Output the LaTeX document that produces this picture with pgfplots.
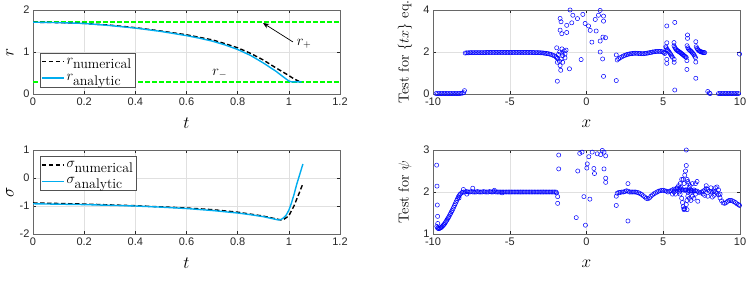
\documentclass[border=0pt]{standalone}
\usepackage{pgfplots}
\pgfplotsset{compat=1.18}
\usepackage{fontspec}
\newfontfamily\tickfont{Liberation Sans}
\usetikzlibrary{arrows.meta}
\definecolor{axgray}{rgb}{0.15,0.15,0.15}
\definecolor{grgray}{rgb}{0.88,0.88,0.88}
\newcommand\sub[1]{\mbox{\fontsize{14}{14}\selectfont #1}}
\pgfplotsset{
  myax/.style={
    scale only axis, width=307pt, height=84pt,
    axis line style={draw=axgray!70, line width=0.5pt},
    grid=major, major grid style={grgray, line width=0.4pt},
    tick align=inside, tick style={axgray, line width=0.5pt},
    major tick length=3pt,
    ticklabel style={font=\tickfont\fontsize{11}{12}\selectfont, text=axgray},
    /pgf/number format/assume math mode=true,
    every axis x label/.style={at={([yshift=-29.5pt]axis description cs:0.5,0)}, anchor=center, font=\fontsize{17}{17}\selectfont},
    legend cell align=left,
    legend style={draw=axgray!80, fill=white, font=\fontsize{14}{15}\selectfont, inner xsep=1pt, inner ysep=3pt, row sep=4.5pt},
    legend image code/.code={\draw[#1] (0pt,0pt) -- (22pt,0pt);},
  },
  ylab/.style={every axis y label/.style={at={([xshift=#1]axis description cs:0,0.5)}, anchor=center, rotate=90, font=\fontsize{17}{17}\selectfont}},
  ylabs/.style={every axis y label/.style={at={([xshift=#1]axis description cs:0,0.5)}, anchor=center, rotate=90, font=\fontsize{14.5}{14.5}\selectfont}},
  dsh/.style={dash pattern=on 4.5pt off 2.5pt},
  scat/.style={only marks, mark=o, mark size=2.1pt, color=blue, mark options={line width=0.5pt}},
}
\begin{document}
\begin{tikzpicture}
\useasboundingbox (0,0) rectangle (747pt,-295pt);
% ---------- top left
\begin{axis}[myax, ylab=-23pt, at={(33pt,-10pt)}, anchor=north west,
  xmin=0, xmax=1.2, ymin=0, ymax=2, xtick={0,0.2,...,1.2}, ytick={0,1,2},
  xlabel={$t$}, ylabel={$r$},
  legend style={at={(axis description cs:0.023,0.083)}, anchor=south west}]
\addplot[green, line width=1.5pt, dsh, forget plot] coordinates {(0,1.71) (1.2,1.71)};
\addplot[green, line width=1.5pt, dsh, forget plot] coordinates {(0,0.29) (1.2,0.29)};
\addplot[black, line width=1.4pt, dsh] coordinates {(0,1.71) (0.1,1.70) (0.2,1.68) (0.3,1.64) (0.4,1.58) (0.5,1.50) (0.6,1.41) (0.7,1.29) (0.75,1.20) (0.8,1.10) (0.85,0.97) (0.9,0.81) (0.95,0.62) (1.0,0.44) (1.02,0.36) (1.04,0.30) (1.05,0.29)};
\addlegendentry{$r_{\sub{numerical}}$}
\addplot[cyan, line width=1.4pt] coordinates {(0,1.71) (0.1,1.70) (0.2,1.68) (0.3,1.63) (0.4,1.57) (0.5,1.49) (0.6,1.39) (0.65,1.33) (0.7,1.26) (0.75,1.17) (0.8,1.06) (0.85,0.92) (0.9,0.74) (0.95,0.54) (0.98,0.40) (1.0,0.31) (1.01,0.29) (1.05,0.29)};
\addlegendentry{$r_{\sub{analytic}}$}
\draw[-{Stealth[length=6pt,width=5pt]}, line width=0.7pt] (axis cs:1.016,1.24) -- (axis cs:0.899,1.69);
\node[font=\fontsize{14}{14}\selectfont] at (axis cs:1.06,1.19) {$r_+$};
\node[font=\fontsize{14}{14}\selectfont] at (axis cs:0.73,0.48) {$r_-$};
\end{axis}
% ---------- bottom left
\begin{axis}[myax, ylab=-23pt, at={(33pt,-150pt)}, anchor=north west,
  xmin=0, xmax=1.2, ymin=-2, ymax=1, xtick={0,0.2,...,1.2}, ytick={-2,-1,0,1},
  xlabel={$t$}, ylabel={$\sigma$},
  legend style={at={(axis description cs:0.023,0.929)}, anchor=north west}]
\addplot[black, line width=1.4pt, dsh] coordinates {(0,-0.89) (0.2,-0.93) (0.4,-0.99) (0.6,-1.07) (0.7,-1.13) (0.8,-1.22) (0.9,-1.36) (0.95,-1.46) (0.97,-1.50) (0.98,-1.48) (1.0,-1.35) (1.02,-1.0) (1.04,-0.55) (1.055,-0.2)};
\addlegendentry{$\sigma_{\sub{numerical}}$}
\addplot[cyan, line width=1.4pt] coordinates {(0,-0.92) (0.2,-0.95) (0.4,-1.0) (0.5,-1.04) (0.6,-1.09) (0.7,-1.16) (0.8,-1.25) (0.85,-1.31) (0.9,-1.38) (0.93,-1.44) (0.95,-1.48) (0.96,-1.50) (0.97,-1.48) (0.98,-1.42) (0.99,-1.32) (1.0,-1.15) (1.01,-0.9) (1.02,-0.6) (1.03,-0.25) (1.04,0.05) (1.05,0.35) (1.055,0.5)};
\addlegendentry{$\sigma_{\sub{analytic}}$}
\node[font=\fontsize{12}{12}\selectfont] at ([yshift=-44.5pt]axis description cs:0.5,0) {(a)};
\end{axis}
% ---------- top right
\begin{axis}[myax, ylabs=-28pt, at={(433pt,-10pt)}, anchor=north west,
  xmin=-10, xmax=10, ymin=0, ymax=4, xtick={-10,-5,0,5,10}, ytick={0,2,4},
  xlabel={$x$}, ylabel={Test for $\{tx\}$ eq.}]
\addplot[scat] table {
-9.8 0.02
-9.7 0.02
-9.6 0.02
-9.5 0.02
-9.4 0.02
-9.3 0.02
-9.2 0.02
-9.1 0.02
-9.0 0.02
-8.9 0.02
-8.8 0.02
-8.7 0.02
-8.6 0.02
-8.5 0.02
-8.4 0.02
-8.3 0.02
-8.2 0.03
-8.1 0.04
-8.0 0.06
-7.95 0.16
-7.9 1.95
-7.8 1.96
-7.7 1.96
-7.6 1.97
-7.5 1.97
-7.4 1.97
-7.3 1.97
-7.2 1.97
-7.1 1.97
-7.0 1.97
-6.9 1.97
-6.8 1.97
-6.7 1.97
-6.6 1.97
-6.5 1.98
-6.4 1.98
-6.3 1.98
-6.2 1.98
-6.1 1.98
-6.0 1.98
-5.9 1.98
-5.8 1.98
-5.7 1.98
-5.6 1.98
-5.5 1.98
-5.4 1.98
-5.3 1.98
-5.2 1.98
-5.1 1.98
-5.0 1.98
-4.9 1.98
-4.8 1.98
-4.7 1.98
-4.6 1.98
-4.5 1.98
-4.4 1.98
-4.3 1.98
-4.2 1.98
-4.1 1.98
-4.0 1.98
-3.9 1.98
-3.8 1.98
-3.7 1.98
-3.6 1.98
-3.5 1.98
-3.4 1.97
-3.3 1.97
-3.2 1.97
-3.1 1.97
-3.0 1.96
-2.9 1.96
-2.8 1.95
-2.7 1.94
-2.6 1.93
-2.5 1.92
-2.4 1.90
-2.3 1.88
-2.2 1.85
-2.1 1.82
-2.0 1.78
-1.95 1.74
-1.9 1.70
-1.07 4.0
-0.89 3.75
-1.72 3.6
-1.66 3.44
-0.24 3.79
-0.59 3.59
-0.96 3.39
-1.29 3.27
-1.72 3.04
-1.61 2.87
-1.29 2.93
-0.09 3.36
0.13 3.24
0.24 3.03
0.63 3.0
0.57 3.55
0.78 3.75
0.89 3.98
1.11 3.71
1.11 3.47
1.24 2.68
1.07 2.71
0.89 2.52
0.35 2.47
0.89 2.0
1.05 1.67
1.11 0.84
-0.35 1.64
-1.11 1.2
-1.68 1.13
-1.9 0.61
1.94 0.64
1.94 1.86
-1.94 2.2
-1.6 2.15
-1.33 2.09
-1.83 1.88
-1.55 1.83
-1.4 1.72
-1.76 1.56
-1.55 1.51
-1.9 1.51
-1.72 1.35
-1.66 1.67
-1.4 1.91
-1.45 2.05
-1.75 2.0
-1.6 1.95
2.0 1.62
2.1 1.68
2.2 1.73
2.3 1.77
2.4 1.81
2.5 1.84
2.6 1.87
2.7 1.89
2.8 1.91
2.9 1.92
3.0 1.93
3.1 1.94
3.2 1.94
3.3 1.94
3.4 1.93
3.5 1.93
3.6 1.92
3.7 1.92
3.8 1.93
3.9 1.94
4.0 1.95
4.1 1.97
4.2 1.98
4.3 2.0
4.4 2.01
4.5 2.02
4.6 2.03
4.7 2.03
4.8 2.03
4.9 2.02
5.0 2.0
5.05 1.97
5.1 1.93
5.16 2.25
5.2 2.2
5.25 2.12
5.3 2.08
5.35 2.03
5.4 1.98
5.45 1.92
5.5 1.86
5.55 1.8
5.6 1.75
5.7 2.3
5.75 2.22
5.8 2.16
5.85 2.11
5.9 2.08
5.95 2.05
6.0 2.03
6.05 2.0
6.1 1.98
6.15 1.95
6.2 1.92
6.25 1.89
6.3 1.86
6.35 1.83
6.4 1.8
6.45 1.77
6.5 1.74
6.55 2.3
6.6 2.2
6.65 2.14
6.7 2.1
6.75 2.07
6.8 2.04
6.85 2.0
6.9 1.96
6.95 1.92
7.0 1.87
7.05 1.8
7.1 1.73
7.15 2.25
7.2 2.17
7.25 2.12
7.3 2.08
7.35 2.05
7.4 2.03
7.45 2.01
7.5 2.0
7.55 1.99
7.6 1.98
7.65 1.97
7.7 1.97
5.23 3.24
5.75 3.41
6.58 2.81
6.58 2.65
7.12 2.49
5.23 2.44
5.7 2.45
5.23 1.65
5.23 1.46
5.71 1.51
5.71 1.65
6.54 1.59
6.54 1.17
7.12 1.52
7.12 0.75
5.75 0.19
7.9 0.12
8.0 0.05
8.05 0.02
8.6 0.02
8.7 0.02
8.8 0.02
8.9 0.02
9.0 0.02
9.1 0.02
9.2 0.02
9.3 0.02
9.4 0.02
9.5 0.02
9.6 0.02
9.7 0.02
9.8 0.02
9.9 0.02
9.97 1.9
};
\end{axis}
% ---------- bottom right
\begin{axis}[myax, ylabs=-28pt, at={(433pt,-150pt)}, anchor=north west,
  xmin=-10, xmax=10, ymin=1, ymax=3, xtick={-10,-5,0,5,10}, ytick={1,2,3},
  xlabel={$x$}, ylabel={Test for $\psi$}]
\addplot[scat] table {
-9.75 1.18
-9.7 1.14
-9.65 1.13
-9.6 1.13
-9.55 1.14
-9.5 1.15
-9.45 1.16
-9.4 1.18
-9.35 1.2
-9.3 1.22
-9.25 1.24
-9.2 1.27
-9.15 1.3
-9.1 1.33
-9.05 1.36
-9.0 1.39
-8.95 1.42
-8.9 1.46
-8.85 1.49
-8.8 1.53
-8.75 1.56
-8.7 1.6
-8.65 1.64
-8.6 1.68
-8.55 1.72
-8.5 1.76
-8.45 1.8
-8.4 1.84
-8.35 1.88
-8.3 1.91
-8.25 1.94
-8.2 1.96
-8.1 1.99
-8.0 2.0
-7.9 2.0
-7.8 2.01
-7.7 2.0
-7.6 2.0
-7.5 2.01
-7.4 2.0
-7.3 2.0
-7.2 2.0
-7.1 2.01
-7.0 2.0
-6.9 2.0
-6.8 2.0
-6.7 2.01
-6.6 2.0
-6.5 2.0
-6.4 2.0
-6.3 2.01
-6.2 2.0
-6.1 2.0
-6.0 2.01
-5.9 2.0
-5.8 2.0
-5.7 2.0
-5.6 2.0
-5.5 2.0
-5.4 2.0
-5.3 2.0
-5.2 2.0
-5.1 2.0
-5.0 2.0
-4.9 2.0
-4.8 2.0
-4.7 2.0
-4.6 2.0
-4.5 2.0
-4.4 2.0
-4.3 2.0
-4.2 2.0
-4.1 2.0
-4.0 2.0
-3.9 2.0
-3.8 2.0
-3.7 2.0
-3.6 2.0
-3.5 2.0
-3.4 2.0
-3.3 2.0
-3.2 2.0
-3.1 2.0
-3.0 2.0
-2.9 2.0
-2.8 2.0
-2.7 2.0
-2.6 2.0
-2.5 2.0
-2.4 2.0
-2.3 2.0
-2.2 2.0
-2.1 2.0
-2.0 2.0
-1.95 1.98
-9.76 2.64
-9.74 2.14
-9.72 1.69
-9.7 1.42
-9.69 1.25
-8.02 2.06
-7.41 2.09
-8.3 1.86
-7.8 1.95
-6.0 2.04
-5.5 1.98
-1.88 1.89
-1.88 1.73
-1.81 2.88
-1.81 2.55
-0.44 2.92
-0.29 2.95
0.37 2.95
1.03 2.99
1.14 2.95
0.70 2.91
0.92 2.89
0.15 2.84
1.25 2.86
0.05 2.67
0.48 2.56
-0.57 2.5
1.14 2.55
1.25 2.33
1.25 2.23
0.52 2.44
-0.17 1.89
0.22 1.83
-0.67 1.39
-0.07 1.21
0.02 2.57
1.94 1.9
1.94 1.68
2.7 2.2
2.7 1.31
2.0 1.97
2.1 1.99
2.2 1.99
2.3 2.0
2.4 2.0
2.5 2.01
2.6 2.03
2.7 2.02
2.8 2.0
2.9 2.0
3.0 2.0
3.1 2.0
3.2 2.0
3.3 1.99
3.4 1.98
3.5 1.96
3.6 1.94
3.7 1.91
3.8 1.88
3.9 1.85
4.0 1.84
4.1 1.86
4.2 1.9
4.3 1.93
4.4 1.96
4.5 1.98
4.6 2.0
4.7 2.02
4.8 2.03
4.9 2.04
5.0 2.04
5.1 2.03
5.2 2.02
5.3 2.0
5.4 2.02
5.5 2.03
5.6 2.05
5.7 2.07
5.8 2.06
5.9 2.08
6.0 2.06
6.1 2.05
6.2 2.06
6.3 2.05
6.4 2.04
6.5 2.05
6.6 2.04
6.7 2.03
6.8 2.04
6.9 2.03
7.0 2.02
7.1 2.03
7.2 2.02
7.3 2.0
7.4 1.98
7.5 2.0
7.6 2.02
7.7 2.05
7.8 2.08
7.9 2.06
8.0 2.02
8.1 2.0
8.2 1.99
8.3 2.02
8.4 2.0
8.5 1.97
8.6 1.93
8.7 1.86
8.8 1.79
8.9 1.74
9.0 1.73
9.1 1.75
9.2 1.78
9.3 1.8
9.4 1.8
9.5 1.79
9.6 1.77
9.7 1.75
9.8 1.72
9.9 1.7
9.97 1.68
6.0 2.15
6.1 2.2
6.1 1.95
6.2 2.3
6.2 1.85
6.25 1.75
6.3 2.3
6.3 1.65
6.35 1.6
6.4 2.4
6.4 1.6
6.45 2.5
6.5 2.63
6.5 3.0
6.5 1.7
6.55 2.3
6.55 1.8
6.6 2.25
6.6 1.9
6.65 2.2
6.7 2.1
6.7 1.85
6.75 2.15
6.8 2.0
6.8 1.8
6.9 2.2
6.9 1.9
7.0 2.05
7.0 1.85
7.1 2.2
7.1 1.95
7.2 2.25
7.25 1.78
5.9 2.1
5.8 1.95
5.7 2.0
5.6 1.95
6.05 2.0
6.15 2.1
6.35 2.2
6.45 2.05
6.6 2.0
6.55 1.58
6.35 1.58
7.8 2.15
7.9 1.9
8.1 2.1
8.3 1.92
8.5 2.12
8.6 2.05
8.7 1.95
8.2 1.88
7.6 1.95
8.4 2.1
7.7 1.92
};
\node[font=\fontsize{12}{12}\selectfont] at ([yshift=-44.5pt]axis description cs:0.5,0) {(b)};
\end{axis}
\end{tikzpicture}
\end{document}
